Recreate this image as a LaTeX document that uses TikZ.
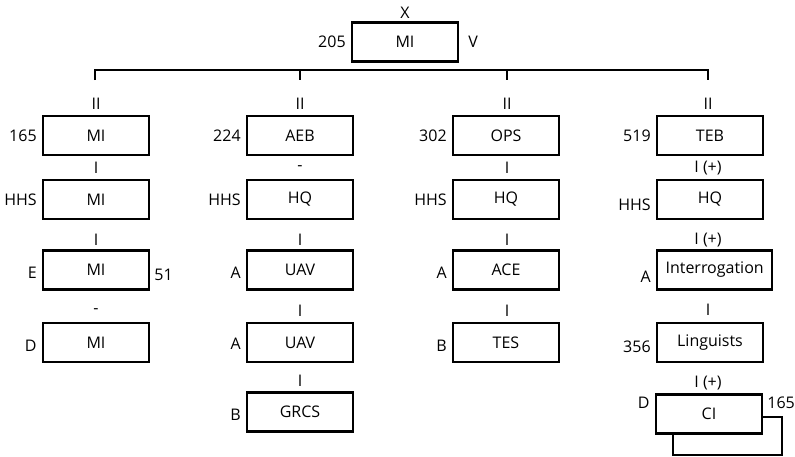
\documentclass[tikz,border=0pt]{standalone}
\usepackage{fontspec}
\setmainfont{Open Sans}
\begin{document}
\begin{tikzpicture}[x=1pt,y=-1pt,
  font=\fontsize{16}{19}\selectfont,
  unit/.style={draw, line width=2.3pt, minimum width=106pt, minimum height=39pt, inner sep=0pt, fill=white},
  lbl/.style={inner sep=0pt},
  lleft/.style={lbl, anchor=east},
  lright/.style={lbl, anchor=west},
  bus/.style={line width=2.5pt, line cap=butt, line join=miter}]
\useasboundingbox (0,0) rectangle (795,456);

% top unit
\node[unit] (top) at (405,42) {MI};
\node[lbl] (topX) at (405,13) {X};
\node[lleft] (top205) at ([xshift=-5pt]top.west) {205};
\node[lright] (topV) at ([xshift=9pt]top.east) {V};

% bus
\coordinate (b1) at (95,70);
\coordinate (b2) at (300,70);
\coordinate (b3) at (507,70);
\coordinate (b4) at (708,70);
\coordinate (d1) at (95,80);
\coordinate (d2) at (300,80);
\coordinate (d3) at (507,80);
\coordinate (d4) at (708,80);
\draw[bus] (d1) -- (b1) -- (b4) -- (d4);
\draw[bus] (b2) -- (d2);
\draw[bus] (b3) -- (d3);

% column 1
\node[unit] (a1) at (96,135.5) {MI};
\node[unit] (a2) at (96,199.5) {MI};
\node[unit] (a3) at (96,270) {MI};
\node[unit] (a4) at (96,342.5) {MI};
\node[lbl] (a1t) at (96,104) {II};
\node[lbl] (a2t) at (96,168) {I};
\node[lbl] (a3t) at (96,240) {I};
\node[lbl] (a4t) at (96,311) {-};
\node[lleft] (a1l) at ([xshift=-5pt]a1.west) {165};
\node[lleft] (a2l) at ([xshift=-5pt]a2.west) {HHS};
\node[lleft] (a3l) at ([xshift=-5pt,yshift=-3pt]a3.west) {E};
\node[lleft] (a4l) at ([xshift=-5pt,yshift=-3pt]a4.west) {D};
\node[lright] (a3r) at ([xshift=4pt,yshift=-5pt]a3.east) {51};

% column 2
\node[unit] (b1n) at (300,135.5) {AEB};
\node[unit] (b2n) at (300,199.5) {HQ};
\node[unit] (b3n) at (300,270) {UAV};
\node[unit] (b4n) at (300,342.5) {UAV};
\node[unit] (b5n) at (300,412) {GRCS};
\node[lbl] (b1t) at (300,104) {II};
\node[lbl] (b2t) at (300,168) {-};
\node[lbl] (b3t) at (300,240) {I};
\node[lbl] (b4t) at (300,311) {I};
\node[lbl] (b5t) at (300,381) {I};
\node[lleft] (b1l) at ([xshift=-5pt]b1n.west) {224};
\node[lleft] (b2l) at ([xshift=-5pt]b2n.west) {HHS};
\node[lleft] (b3l) at ([xshift=-5pt,yshift=-3pt]b3n.west) {A};
\node[lleft] (b4l) at ([xshift=-5pt,yshift=-1pt]b4n.west) {A};
\node[lleft] (b5l) at ([xshift=-5pt,yshift=-3pt]b5n.west) {B};

% column 3
\node[unit] (c1) at (506,135.5) {OPS};
\node[unit] (c2) at (506,199.5) {HQ};
\node[unit] (c3) at (506,270) {ACE};
\node[unit] (c4) at (506,342.5) {TES};
\node[lbl] (c1t) at (507,104) {II};
\node[lbl] (c2t) at (507,168) {I};
\node[lbl] (c3t) at (507,240) {I};
\node[lbl] (c4t) at (507,311) {I};
\node[lleft] (c1l) at ([xshift=-5pt]c1.west) {302};
\node[lleft] (c2l) at ([xshift=-5pt]c2.west) {HHS};
\node[lleft] (c3l) at ([xshift=-5pt,yshift=-3pt]c3.west) {A};
\node[lleft] (c4l) at ([xshift=-5pt,yshift=-3pt]c4.west) {B};

% column 4
\node[unit] (e1) at (710,135.5) {TEB};
\node[unit] (e2) at (710,199.5) {HQ};
\node[unit, minimum width=115pt, anchor=west] (e3) at (656,270) {Interrogation};
\node[unit] (e4) at (710,342.5) {Linguists};
\node[unit, minimum width=109pt, minimum height=38pt] (e5s) at (727.5,436) {};
\node[unit] (e5) at (709,414) {CI};
\node[lbl] (e1t) at (708,104) {II};
\node[lbl] (e2t) at (708,168) {I (+)};
\node[lbl] (e3t) at (708,240) {I (+)};
\node[lbl] (e4t) at (708,310) {I};
\node[lbl] (e5t) at (708,383) {I (+)};
\node[lleft] (e1l) at ([xshift=-5pt]e1.west) {519};
\node[lleft] (e2l) at ([xshift=-5pt,yshift=-5pt]e2.west) {HHS};
\node[lleft] (e3l) at ([xshift=-5pt,yshift=-7pt]e3.west) {A};
\node[lleft] (e4l) at ([xshift=-5pt,yshift=-4pt]e4.west) {356};
\node[lleft] (e5l) at ([xshift=-5pt,yshift=11pt]e5.west) {D};
\node[lright] (e5r) at ([xshift=4pt,yshift=11pt]e5.east) {165};
\end{tikzpicture}
\end{document}
